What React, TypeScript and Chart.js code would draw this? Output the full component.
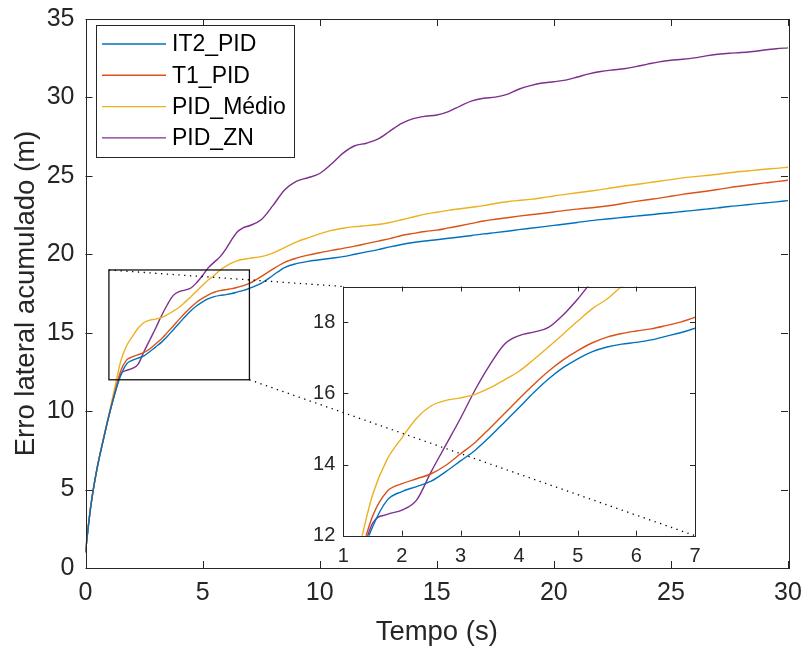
import React, { useEffect, useRef } from 'react';
import { Chart, registerables } from 'chart.js';

Chart.register(...registerables);

// ---------- DATA ----------
const time = [
  0, 0.1, 0.25, 0.5, 0.75, 1.0, 1.25, 1.5, 1.75, 2.0, 2.25, 2.5, 2.75, 3.0, 3.25, 3.5, 3.75, 4.0, 4.25, 4.5,
  4.75, 5.0, 5.25, 5.5, 5.75, 6.0, 6.25, 6.5, 6.75, 7.0, 7.5, 8, 8.5, 9, 9.5, 10, 10.5, 11, 11.5, 12,
  12.5, 13, 13.5, 14, 14.5, 15, 15.5, 16, 16.5, 17, 17.5, 18, 18.5, 19, 19.5, 20, 20.5, 21, 21.5, 22,
  22.5, 23, 23.5, 24, 24.5, 25, 25.5, 26, 26.5, 27, 27.5, 28, 28.5, 29, 29.5, 30,
];

const it2Pid = [
  1.0, 2.4, 4.2, 6.4, 8.1, 9.7, 11.1, 12.25, 13.0, 13.24, 13.38, 13.53, 13.8, 14.1, 14.4, 14.78, 15.19, 15.6, 16.02, 16.4,
  16.72, 16.97, 17.17, 17.3, 17.38, 17.43, 17.5, 17.6, 17.7, 17.83, 18.14, 18.65, 19.15, 19.4, 19.55, 19.65, 19.75, 19.85, 20.0, 20.15,
  20.3, 20.47, 20.62, 20.75, 20.85, 20.93, 21.02, 21.1, 21.2, 21.3, 21.38, 21.47, 21.57, 21.66, 21.75, 21.84, 21.93, 22.03, 22.13, 22.21,
  22.28, 22.36, 22.43, 22.5, 22.58, 22.65, 22.73, 22.8, 22.88, 22.96, 23.05, 23.12, 23.2, 23.27, 23.34, 23.42,
];

const t1Pid = [
  1.0, 2.4, 4.2, 6.4, 8.1, 9.72, 11.2, 12.55, 13.25, 13.46, 13.6, 13.74, 13.98, 14.3, 14.62, 15.02, 15.43, 15.85, 16.25, 16.62,
  16.94, 17.2, 17.42, 17.58, 17.68, 17.75, 17.81, 17.9, 18.0, 18.14, 18.57, 19.05, 19.48, 19.75, 19.95, 20.1, 20.25, 20.38, 20.52, 20.68,
  20.84, 21.0, 21.2, 21.33, 21.45, 21.54, 21.68, 21.82, 21.97, 22.12, 22.23, 22.33, 22.43, 22.52, 22.6, 22.7, 22.8, 22.88, 22.95, 23.03,
  23.13, 23.25, 23.37, 23.48, 23.58, 23.7, 23.82, 23.92, 24.02, 24.13, 24.25, 24.35, 24.45, 24.55, 24.63, 24.72,
];

const pidMedio = [
  1.0, 2.4, 4.2, 6.4, 8.15, 9.8, 11.5, 13.15, 14.15, 14.75, 15.3, 15.65, 15.8, 15.87, 15.97, 16.15, 16.38, 16.62, 16.95, 17.3,
  17.66, 18.03, 18.38, 18.65, 19.0, 19.25, 19.45, 19.6, 19.68, 19.74, 19.85, 20.08, 20.42, 20.78, 21.05, 21.3, 21.52, 21.66, 21.76, 21.83,
  21.9, 22.03, 22.2, 22.38, 22.56, 22.68, 22.8, 22.9, 23.0, 23.1, 23.24, 23.35, 23.43, 23.5, 23.6, 23.72, 23.82, 23.92, 24.02, 24.12,
  24.24, 24.35, 24.45, 24.55, 24.66, 24.76, 24.87, 24.95, 25.02, 25.1, 25.2, 25.28, 25.35, 25.42, 25.48, 25.55,
];

const pidZn = [
  1.0, 2.4, 4.2, 6.4, 8.1, 9.7, 11.1, 12.35, 12.6, 12.72, 13.0, 13.8, 14.55, 15.3, 16.1, 16.8, 17.38, 17.62, 17.72, 17.85,
  18.2, 18.65, 19.15, 19.5, 19.85, 20.35, 20.95, 21.45, 21.7, 21.82, 22.2, 23.1, 24.1, 24.65, 24.88, 25.15, 25.75, 26.45, 26.92, 27.08,
  27.35, 27.85, 28.35, 28.65, 28.8, 28.88, 29.1, 29.45, 29.78, 29.95, 30.02, 30.2, 30.52, 30.75, 30.92, 31.0, 31.1, 31.3, 31.5, 31.65,
  31.75, 31.83, 31.96, 32.12, 32.27, 32.37, 32.43, 32.52, 32.65, 32.75, 32.82, 32.86, 32.93, 33.02, 33.1, 33.16,
];

const seriesNames = ['IT2_PID', 'T1_PID', 'PID_Médio', 'PID_ZN'];
const seriesColors = ['#0072BD', '#D95319', '#EDB120', '#7E2F8E'];
const seriesValues = [it2Pid, t1Pid, pidMedio, pidZn];

const mainXTicks = [0, 5, 10, 15, 20, 25, 30];
const mainYTicks = [0, 5, 10, 15, 20, 25, 30, 35];
const insetXTicks = [1, 2, 3, 4, 5, 6, 7];
const insetYTicks = [12, 14, 16, 18];
const insetXRange = [1, 7];
const insetYRange = [12, 19];

const xTitle = 'Tempo (s)';
const yTitle = 'Erro lateral acumulado (m)';

// ---------- STYLE ----------
const FONT = "'Liberation Sans', Arial, Helvetica, sans-serif";
const AXIS_COLOR = '#262626';
const W = 804;
const H = 649;

function buildDatasets() {
  return seriesNames.map((name, i) => ({
    label: name,
    data: time.map((t, k) => ({ x: t, y: seriesValues[i][k] })),
    borderColor: seriesColors[i],
    backgroundColor: seriesColors[i],
    borderWidth: 1.4,
    pointRadius: 0,
    cubicInterpolationMode: 'monotone' as const,
    fill: false,
  }));
}

function zeroPad(s: any) {
  s.paddingTop = 0;
  s.paddingBottom = 0;
  s.paddingLeft = 0;
  s.paddingRight = 0;
}

function drawFrame(chart: any, tickLen: number) {
  const { ctx, chartArea: a, scales } = chart;
  ctx.save();
  ctx.strokeStyle = AXIS_COLOR;
  ctx.lineWidth = 1;
  ctx.beginPath();
  scales.x.ticks.forEach((t: any) => {
    const px = Math.round(scales.x.getPixelForValue(t.value)) + 0.5;
    ctx.moveTo(px, a.bottom);
    ctx.lineTo(px, a.bottom - tickLen);
    ctx.moveTo(px, a.top);
    ctx.lineTo(px, a.top + tickLen);
  });
  scales.y.ticks.forEach((t: any) => {
    const py = Math.round(scales.y.getPixelForValue(t.value)) + 0.5;
    ctx.moveTo(a.left, py);
    ctx.lineTo(a.left + tickLen, py);
    ctx.moveTo(a.right, py);
    ctx.lineTo(a.right - tickLen, py);
  });
  ctx.stroke();
  ctx.strokeRect(
    Math.round(a.left) + 0.5,
    Math.round(a.top) + 0.5,
    Math.round(a.right - a.left),
    Math.round(a.bottom - a.top)
  );
  ctx.restore();
}

const mainPlugin = {
  id: 'mainDecor',
  afterDraw(chart: any) {
    const { ctx, scales } = chart;
    drawFrame(chart, 7);
    // zoom rectangle
    const x1 = scales.x.getPixelForValue(insetXRange[0]);
    const x2 = scales.x.getPixelForValue(insetXRange[1]);
    const y1 = scales.y.getPixelForValue(insetYRange[1]);
    const y2 = scales.y.getPixelForValue(insetYRange[0]);
    ctx.save();
    ctx.strokeStyle = '#111';
    ctx.lineWidth = 1.3;
    ctx.strokeRect(x1, y1, x2 - x1, y2 - y1);
    ctx.restore();
    // legend
    const lx = 96, ly = 25, lw = 198, lh = 132;
    ctx.save();
    ctx.fillStyle = '#ffffff';
    ctx.fillRect(lx, ly, lw, lh);
    ctx.strokeStyle = AXIS_COLOR;
    ctx.lineWidth = 1;
    ctx.strokeRect(lx + 0.5, ly + 0.5, lw, lh);
    ctx.font = `23px ${FONT}`;
    ctx.textBaseline = 'middle';
    ctx.textAlign = 'left';
    seriesNames.forEach((name, i) => {
      const ry = 44 + i * 31.3;
      ctx.strokeStyle = seriesColors[i];
      ctx.lineWidth = 1.4;
      ctx.beginPath();
      ctx.moveTo(102, ry);
      ctx.lineTo(166, ry);
      ctx.stroke();
      ctx.fillStyle = '#000';
      ctx.fillText(name, 172, ry + 1);
    });
    ctx.restore();
  },
};

function makeInsetPlugin(getMain: () => any) {
  return {
    id: 'insetDecor',
    beforeDatasetsDraw(chart: any) {
      const { ctx, chartArea: a } = chart;
      ctx.save();
      ctx.fillStyle = '#ffffff';
      ctx.fillRect(a.left, a.top, a.right - a.left, a.bottom - a.top);
      ctx.restore();
    },
    afterDraw(chart: any) {
      const { ctx, chartArea: a } = chart;
      drawFrame(chart, 5);
      const main = getMain();
      if (!main) return;
      const ms = main.scales;
      const p1x = ms.x.getPixelForValue(insetXRange[0]);
      const p1y = ms.y.getPixelForValue(insetYRange[1]);
      const p2x = ms.x.getPixelForValue(insetXRange[1]);
      const p2y = ms.y.getPixelForValue(insetYRange[0]);
      ctx.save();
      ctx.strokeStyle = '#000';
      ctx.lineWidth = 1.3;
      ctx.setLineDash([1.3, 4.5]);
      ctx.beginPath();
      ctx.moveTo(p1x, p1y);
      ctx.lineTo(a.left, a.top);
      ctx.moveTo(p2x, p2y);
      ctx.lineTo(a.right, a.bottom);
      ctx.stroke();
      ctx.restore();
    },
  };
}

export default function App() {
  const mainRef = useRef<HTMLCanvasElement>(null);
  const insetRef = useRef<HTMLCanvasElement>(null);

  useEffect(() => {
    Chart.defaults.font.family = FONT;
    Chart.defaults.color = AXIS_COLOR;
    let mainChart: any = null;
    let insetChart: any = null;

    mainChart = new Chart(mainRef.current as HTMLCanvasElement, {
      type: 'line',
      data: { datasets: buildDatasets() as any },
      options: {
        responsive: false,
        animation: false,
        layout: { padding: { left: 0, top: 19, right: 16, bottom: 0 } },
        plugins: { legend: { display: false }, tooltip: { enabled: false } },
        scales: {
          x: {
            type: 'linear',
            min: mainXTicks[0],
            max: mainXTicks[mainXTicks.length - 1],
            afterBuildTicks: (s: any) => { s.ticks = mainXTicks.map((v) => ({ value: v })); },
            afterFit: (s: any) => { s.height = 81; zeroPad(s); },
            grid: { display: false, drawTicks: false },
            border: { display: false },
            ticks: { font: { size: 25 }, color: AXIS_COLOR, padding: 10, maxRotation: 0, autoSkip: false },
            title: { display: true, text: xTitle, font: { size: 27.5 }, color: AXIS_COLOR, padding: { top: 0, bottom: 0.5 } },
          },
          y: {
            type: 'linear',
            min: mainYTicks[0],
            max: mainYTicks[mainYTicks.length - 1],
            afterBuildTicks: (s: any) => { s.ticks = mainYTicks.map((v) => ({ value: v })); },
            afterFit: (s: any) => { s.width = 85.5; zeroPad(s); },
            grid: { display: false, drawTicks: false },
            border: { display: false },
            ticks: { font: { size: 25 }, color: AXIS_COLOR, padding: 11, autoSkip: false },
            title: { display: true, text: yTitle, font: { size: 27.5 }, color: AXIS_COLOR, padding: { top: 9.5, bottom: 0 } },
          },
        },
      },
      plugins: [mainPlugin],
    });

    insetChart = new Chart(insetRef.current as HTMLCanvasElement, {
      type: 'line',
      data: { datasets: buildDatasets() as any },
      options: {
        responsive: false,
        animation: false,
        layout: { padding: { left: 0, top: 286.5, right: 109, bottom: 0 } },
        plugins: { legend: { display: false }, tooltip: { enabled: false } },
        scales: {
          x: {
            type: 'linear',
            min: insetXRange[0],
            max: insetXRange[1],
            afterBuildTicks: (s: any) => { s.ticks = insetXTicks.map((v) => ({ value: v })); },
            afterFit: (s: any) => { s.height = 113.3; zeroPad(s); },
            grid: { display: false, drawTicks: false },
            border: { display: false },
            ticks: { font: { size: 20 }, color: AXIS_COLOR, padding: 9, maxRotation: 0, autoSkip: false },
          },
          y: {
            type: 'linear',
            min: insetYRange[0],
            max: insetYRange[1],
            afterBuildTicks: (s: any) => { s.ticks = insetYTicks.map((v) => ({ value: v })); },
            afterFit: (s: any) => { s.width = 343.3; zeroPad(s); },
            grid: { display: false, drawTicks: false },
            border: { display: false },
            ticks: { font: { size: 20 }, color: AXIS_COLOR, padding: 8, autoSkip: false },
          },
        },
      },
      plugins: [makeInsetPlugin(() => mainChart)],
    });

    return () => {
      if (insetChart) insetChart.destroy();
      if (mainChart) mainChart.destroy();
    };
  }, []);

  return (
    <div style={{ position: 'absolute', left: 0, top: 0, width: W, height: H, background: '#ffffff', overflow: 'hidden' }}>
      <canvas ref={mainRef} width={W} height={H} style={{ position: 'absolute', left: 0, top: 0 }} />
      <canvas ref={insetRef} width={W} height={H} style={{ position: 'absolute', left: 0, top: 0 }} />
    </div>
  );
}
